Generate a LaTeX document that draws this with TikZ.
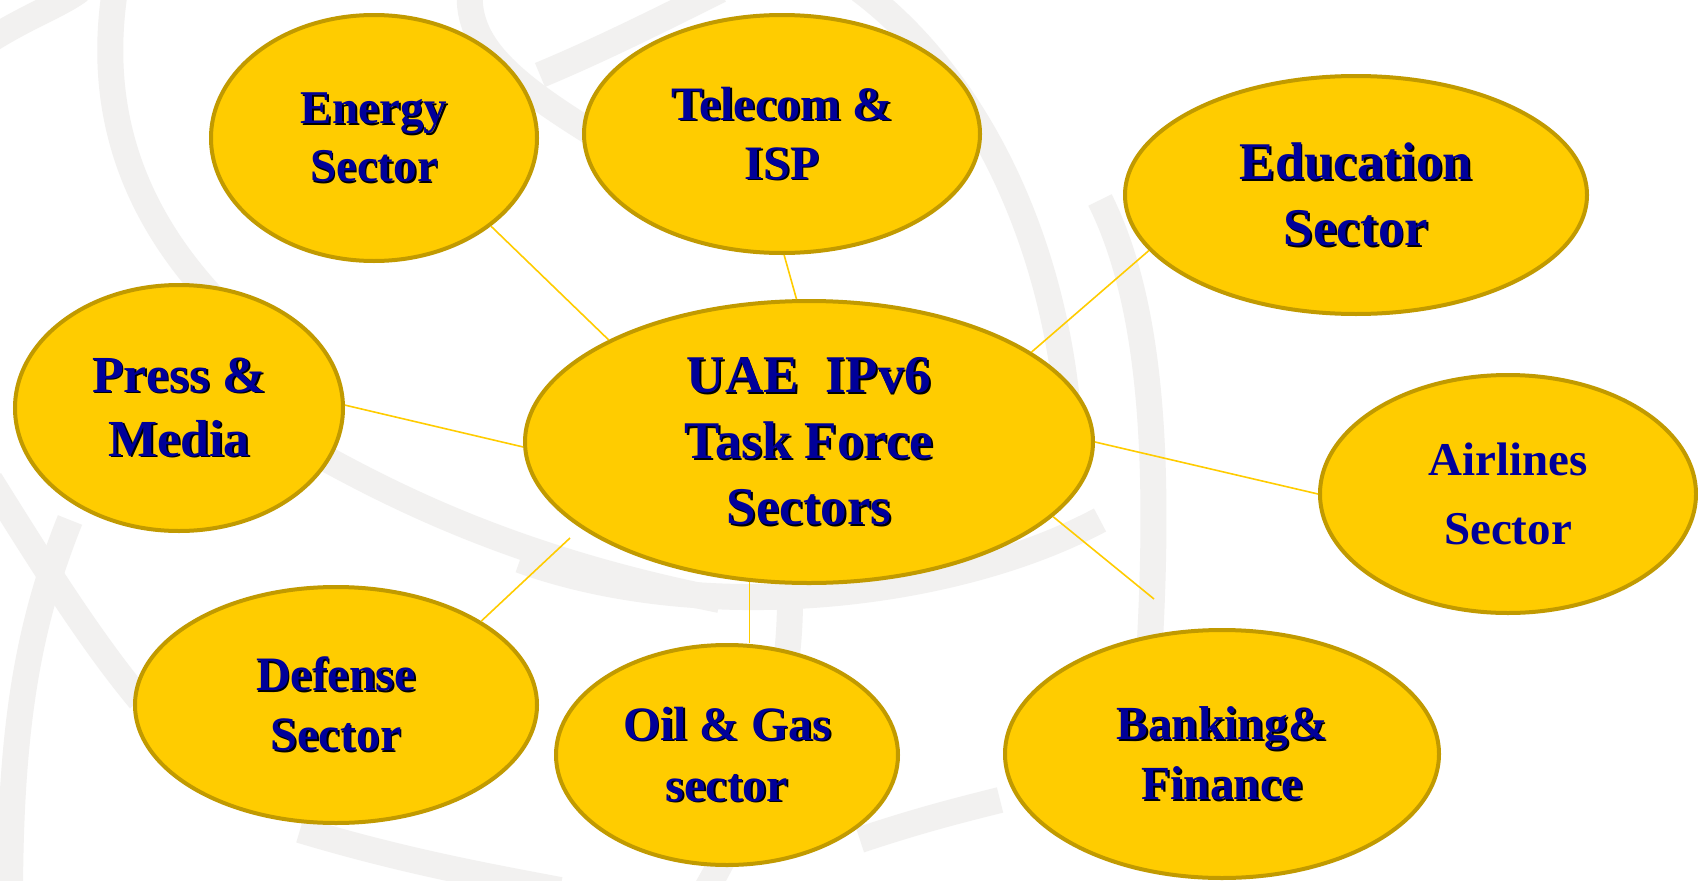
\documentclass[tikz,border=0pt]{standalone}
\usepackage{fontspec}
\setmainfont{Liberation Serif}
\usetikzlibrary{shapes.geometric}
\definecolor{gold}{HTML}{FFCC00}
\definecolor{goldedge}{HTML}{C19A00}
\definecolor{navy}{HTML}{000099}
\definecolor{swirl}{HTML}{F2F1F0}
\newcommand\shd[1]{\rlap{\kern1.8pt\raisebox{-1.8pt}{\textcolor{black}{#1}}}#1}
\begin{document}
\begin{tikzpicture}[x=1pt,y=-1pt,
  sector/.style={ellipse, draw=goldedge, line width=4pt, fill=gold, inner sep=0pt,
    text=navy, align=center, execute at begin node={\rule{0pt}{0.84em}}},
  link/.style={draw=gold, line width=1.6pt},
  swirlline/.style={draw=swirl, line width=26pt}]
\useasboundingbox[fill=white] (0,0) rectangle (1698,881);
% background swirls
\draw[swirlline] (115,-10) .. controls (95,120) and (140,220) .. (215,300);
\draw[swirlline] (-10,40) .. controls (30,15) and (60,5) .. (80,-10);
\draw[swirlline] (-10,480) .. controls (40,560) and (90,640) .. (140,700);
\draw[swirlline] (70,520) .. controls (30,620) and (10,720) .. (10,900);
\draw[swirlline] (310,450) .. controls (400,500) and (520,560) .. (720,600);
\draw[swirlline] (520,560) .. controls (700,625) and (950,600) .. (1100,520);
\draw[swirlline] (790,600) .. controls (790,700) and (760,800) .. (700,900);
\draw[swirlline] (300,830) .. controls (400,860) and (480,875) .. (560,890);
\draw[swirlline] (860,840) .. controls (920,820) and (960,810) .. (1000,800);
\draw[swirlline] (860,-10) .. controls (980,80) and (1060,250) .. (1070,440);
\draw[swirlline] (1100,200) .. controls (1150,300) and (1160,450) .. (1150,640);
\draw[swirlline] (470,-10) .. controls (465,50) and (520,90) .. (620,150);
\draw[swirlline] (540,75) .. controls (600,50) and (660,20) .. (720,-10);
% sector nodes
\node[sector, minimum width=326, minimum height=246,
  font=\bfseries\fontsize{47}{58}\selectfont] (energy) at (374,138)
  {\shd{Energy}\\\shd{Sector}};
\node[sector, minimum width=396, minimum height=238,
  font=\bfseries\fontsize{48}{59}\selectfont] (telecom) at (782,134)
  {\shd{Telecom \&}\\\shd{ISP}};
\node[sector, minimum width=462, minimum height=238,
  font=\bfseries\fontsize{53}{66}\selectfont] (education) at (1356,195)
  {\shd{Education}\\\shd{Sector}};
\node[sector, minimum width=328, minimum height=246,
  font=\bfseries\fontsize{52}{64}\selectfont] (press) at (179,408)
  {\shd{Press \&}\\\shd{Media}};
\node[sector, minimum width=568, minimum height=282,
  font=\bfseries\fontsize{53}{66}\selectfont] (center) at (809,442)
  {\shd{UAE~~IPv6}\\\shd{Task Force}\\\shd{Sectors}};
\node[sector, minimum width=376, minimum height=238,
  font=\bfseries\fontsize{47}{69}\selectfont] (airlines) at (1508,494)
  {Airlines\\Sector};
\node[sector, minimum width=402, minimum height=236,
  font=\bfseries\fontsize{48}{60}\selectfont] (defense) at (336,705)
  {\shd{Defense}\\\shd{Sector}};
\node[sector, minimum width=342, minimum height=220,
  font=\bfseries\fontsize{48}{61}\selectfont] (oilgas) at (727,755)
  {\shd{Oil \& Gas}\\\shd{sector}};
\node[sector, minimum width=434, minimum height=248,
  font=\bfseries\fontsize{47.5}{60}\selectfont] (banking) at (1222,754)
  {\shd{Banking\&}\\\shd{Finance}};
% free ends
\coordinate (bankend) at (1154,599);
\coordinate (defstart) at (570,538);
\coordinate (oiltop) at (center.-113.6);
% connectors
\draw[link] (energy.-37) -- (center.153);
\draw[link] (telecom.-89) -- (center.95);
\draw[link] (education.195) -- (center.22.6);
\draw[link] (press.1) -- (center.181.6);
\draw[link] (center.0) -- (airlines.180);
\draw[link] (center.-17.5) -- (bankend);
\draw[link] (oiltop) -- (oilgas.north -| oiltop);
\draw[link] (defstart) -- (defense.30.8);
\end{tikzpicture}
\end{document}
